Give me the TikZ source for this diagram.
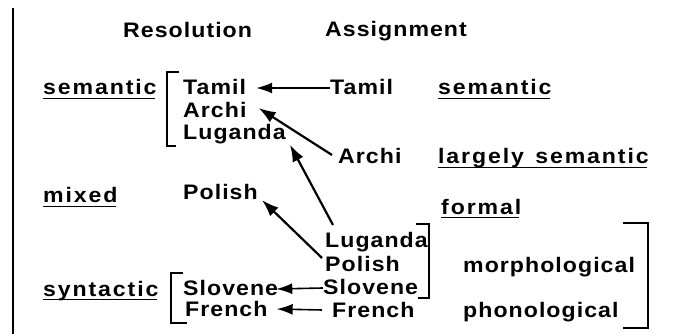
\documentclass[tikz,border=0pt]{standalone}
\usepackage{fontspec}
\usetikzlibrary{arrows.meta}
\newfontfamily\plainlbl{Liberation Sans}[LetterSpace=5,FakeStretch=1.1]
\newfontfamily\ullbl{Liberation Sans}[LetterSpace=9,FakeStretch=1.1]
\tikzset{
  lbl/.style={anchor=base west, inner sep=0pt, font=\plainlbl\fontsize{21}{25}\selectfont\bfseries},
  ulb/.style={anchor=base west, inner sep=0pt, font=\ullbl\fontsize{21}{25}\selectfont\bfseries},
  arr/.style={-{Latex[length=17pt,width=12pt]}, line width=2.2pt},
  harr/.style={-{Latex[length=16pt,width=11pt]}, line width=1.6pt},
  brk/.style={line width=1.4pt},
  uline/.style={line width=1.4pt}
}
\begin{document}
\begin{tikzpicture}[x=1pt,y=-1pt]
\useasboundingbox (0,0) rectangle (699,334);
% left rule
\draw[brk] (13,8) -- (13,334);
% headings
\node[lbl] (resol) at (123,38) {Resolution};
\node[lbl] (assign) at (325,37) {Assignment};
% left column
\node[ulb] (semL) at (43,95) {semantic};
\node[ulb] (mixed) at (43,203) {mixed};
\node[ulb] (synt) at (43,296) {syntactic};
% resolution languages
\node[lbl] (tamL) at (183,95) {Tamil};
\node[lbl] (arcL) at (183,117.5) {Archi};
\node[lbl] (lugL) at (183,140) {Luganda};
\node[lbl] (polL) at (183,199) {Polish};
\node[lbl] (sloL) at (183,295) {Slovene};
\node[lbl] (freL) at (185,316) {French};
% assignment languages
\node[lbl] (tamR) at (330,95) {Tamil};
\node[lbl] (arcR) at (338,164) {Archi};
\node[lbl] (lugR) at (325,247) {Luganda};
\node[lbl] (polR) at (325,271) {Polish};
\node[lbl] (sloR) at (323,294) {Slovene};
\node[lbl] (freR) at (332,317) {French};
% assignment types
\node[ulb] (semR) at (438,95) {semantic};
\node[ulb] (lsem) at (438,164) {largely\hspace{3pt} semantic};
\node[ulb] (formal) at (441,214) {formal};
\node[lbl] (morph) at (463,272) {morphological};
\node[lbl] (phon) at (463,317) {phonological};
% underlines
\foreach \n in {semL,mixed,synt,semR,lsem,formal}
  \draw[uline] ([yshift=-3.5pt]\n.base west) -- ([yshift=-3.5pt,xshift=-2pt]\n.base east);
% brackets
\draw[brk] (179,72) -- (167,72) -- (167,146) -- (176,146);
\draw[brk] (183,273) -- (171,273) -- (171,323) -- (187,323);
\draw[brk] (416,224) -- (429,224) -- (429,298) -- (418,298);
\draw[brk] (623,223) -- (648,223) -- (648,328) -- (623,328);
% arrows
\draw[harr] ([yshift=7pt]tamR.base west) -- ([xshift=10pt,yshift=7pt]tamL.base east);
\draw[arr] ([xshift=-6pt,yshift=9pt]arcR.base west) -- ([xshift=12pt,yshift=9.5pt]arcL.base east);
\draw[arr] ([xshift=8pt,yshift=22pt]lugR.base west) -- ([xshift=4pt]lugL.south east);
\draw[arr] ([xshift=-3pt,yshift=13pt]polR.base west) -- ([xshift=4pt,yshift=-1pt]polL.base east);
\draw[harr] ([yshift=6pt]sloR.base west) -- ([xshift=-2pt,yshift=6pt]sloL.base east);
\draw[harr] ([xshift=-10pt,yshift=7pt]freR.base west) -- ([xshift=9pt,yshift=7pt]freL.base east);
\end{tikzpicture}
\end{document}
